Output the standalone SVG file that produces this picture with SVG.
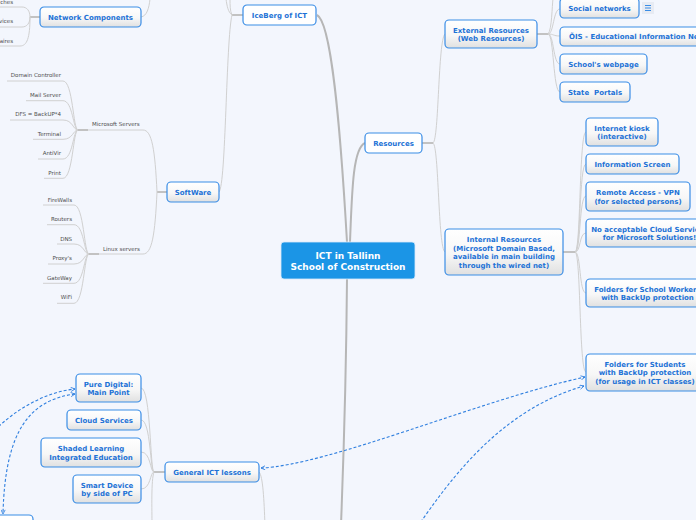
<svg xmlns="http://www.w3.org/2000/svg" width="696" height="520" viewBox="0 0 696 520">
<defs>
<linearGradient id="g" x1="0" y1="0" x2="0" y2="1">
<stop offset="0" stop-color="#ffffff"/>
<stop offset="0.55" stop-color="#f7f7f7"/>
<stop offset="1" stop-color="#e0e0e0"/>
</linearGradient>
<marker id="a" viewBox="0 0 6 6" refX="5.5" refY="3" markerWidth="5" markerHeight="5" orient="auto-start-reverse" markerUnits="userSpaceOnUse">
<path d="M0.5,0.5 L5.5,3 L0.5,5.5" fill="none" stroke="#2f7fdf" stroke-width="1"/>
</marker>
</defs>
<style>
.n rect{fill:url(#g);stroke:#3a8de6;stroke-width:1.2}
.w rect{fill:#ffffff}
.n text{font-family:"DejaVu Sans",Verdana,sans-serif;font-weight:bold;font-size:7px;fill:#1d72d6;text-anchor:middle}
.l{fill:none;stroke:#d0d0d0;stroke-width:1}
.j{fill:none;stroke:#c2c2c2;stroke-width:2}
.t{fill:none;stroke:#b6b6b6;stroke-width:2}
.d{fill:none;stroke:#2f7fdf;stroke-width:1.1;stroke-dasharray:3 2}
.s{font-family:"DejaVu Sans",Verdana,sans-serif;font-size:5.5px;fill:#4d4d4d;text-anchor:end}
.sl{font-family:"DejaVu Sans",Verdana,sans-serif;font-size:5.5px;fill:#4d4d4d}
</style>
<rect x="0" y="0" width="696" height="520" fill="#f3f6fd"/>

<g id="connectors">
<!-- main -->
<path class="t" d="M317,15 C331,22 340,120 347,242"/>
<path class="t" d="M350,242 C352,190 353,148 365,143" stroke-width="1.8"/>
<path class="t" d="M347,279 C346,400 343,470 341,525"/>
<!-- iceberg -->
<path class="j" d="M243,15 L232,15"/>
<path class="l" d="M232,15 C228,12 227,6 226,-1"/>
<path class="l" d="M232,15 C230,11 230,5 230,-1"/>
<path class="l" d="M232,15 C226,40 226,185 219,192"/>
<!-- network components -->
<path class="l" d="M141,17 C147,16 149,8 150,-1"/>
<path class="j" d="M40,17 L30,17"/>
<path class="l" d="M30,17 C30,11 27,7 22,7 L-2,7"/>
<path class="l" d="M30,17 C30,23 27,27 22,27 L-2,27"/>
<path class="l" d="M30,17 C30,38 27,46 20,46 L-2,46"/>
<!-- software -->
<path class="j" d="M167,192 L157,192"/>
<path class="l" d="M157,192 C155,150 152,130 143,130 L88,130"/>
<path class="l" d="M157,192 C155,235 152,254 143,254 L99,254"/>
<path class="j" d="M88,130 L78,130"/>
<path class="l" d="M78,130 C73,130 73,81 63,81 L7,81"/>
<path class="l" d="M78,130 C73,130 73,100.7 63,100.7 L26,100.7"/>
<path class="l" d="M78,130 C73,130 73,120 63,120 L10,120"/>
<path class="l" d="M78,130 C73,130 73,139.3 63,139.3 L33,139.3"/>
<path class="l" d="M78,130 C73,130 73,159 63,159 L38,159"/>
<path class="l" d="M78,130 C73,130 73,178.3 63,178.3 L44,178.3"/>
<path class="j" d="M99,254 L89,254"/>
<path class="l" d="M89,254 C84,254 84,205 74,205 L43,205"/>
<path class="l" d="M89,254 C84,254 84,224.7 74,224.7 L47,224.7"/>
<path class="l" d="M89,254 C84,254 84,244 74,244 L57,244"/>
<path class="l" d="M89,254 C84,254 84,264 74,264 L48,264"/>
<path class="l" d="M89,254 C84,254 84,283.3 74,283.3 L43,283.3"/>
<path class="l" d="M89,254 C84,254 84,303.3 74,303.3 L57,303.3"/>
<!-- resources -->
<path class="j" d="M422,143 L433,143"/>
<path class="l" d="M433,143 C439,140 438,40 445,34"/>
<path class="l" d="M433,143 C439,146 438,248 445,252"/>
<path class="j" d="M537,34 L548,34"/>
<path class="l" d="M548,34 C552,30 552,5 553,-1"/>
<path class="l" d="M548,34 C554,34 553,9 560,9"/>
<path class="l" d="M548,34 C554,34 553,36 560,36"/>
<path class="l" d="M548,34 C554,34 553,64 560,64"/>
<path class="l" d="M548,34 C554,34 553,92 560,92"/>
<path class="j" d="M563,252 L575,252"/>
<path class="l" d="M575,252 C581,252 579,132 586,132"/>
<path class="l" d="M575,252 C581,252 579,164 586,164"/>
<path class="l" d="M575,252 C581,252 579,196 586,196"/>
<path class="l" d="M575,252 C581,252 579,233 586,233"/>
<path class="l" d="M575,252 C581,252 579,293 586,293"/>
<path class="l" d="M575,252 C581,252 579,372 586,372"/>
<!-- general ICT -->
<path class="j" d="M165,472 L154,472"/>
<path class="l" d="M154,472 C150,472 151,388 141,388"/>
<path class="l" d="M154,472 C150,472 151,420 141,420"/>
<path class="l" d="M154,472 C150,472 151,452 141,452"/>
<path class="l" d="M154,472 C150,472 151,489 141,489"/>
<path class="l" d="M154,472 C151,480 152,510 152,525"/>
<path class="l" d="M259,472 C263,476 264,500 265,525"/>
<!-- dashed relations -->
<path class="d" d="M261,468 C330,465 480,400 585,377" marker-start="url(#a)" marker-end="url(#a)"/>
<path class="d" d="M418,526 C450,480 500,410 584,386" marker-end="url(#a)"/>
<path class="d" d="M-5,430 C15,410 45,392 75,389" marker-end="url(#a)"/>
<path class="d" d="M75,394 C30,400 5,430 3,514" marker-start="url(#a)" marker-end="url(#a)"/>
</g>

<g id="labels-network">
<text class="s" x="13" y="4">ches</text>
<text class="s" x="13" y="23">vices</text>
<text class="s" x="13" y="43">aires</text>
</g>
<g id="labels-ms">
<text class="s" x="61" y="77">Domain Controller</text>
<text class="s" x="61" y="96.7">Mail Server</text>
<text class="s" x="61" y="115.7">DFS = BackUP*4</text>
<text class="s" x="61" y="135.7">Terminal</text>
<text class="s" x="61" y="155">AntiVir</text>
<text class="s" x="61" y="175">Print</text>
<text class="sl" x="92" y="125.7">Microsoft Servers</text>
</g>
<g id="labels-linux">
<text class="s" x="72" y="202">FireWalls</text>
<text class="s" x="72" y="221">Routers</text>
<text class="s" x="72" y="241">DNS</text>
<text class="s" x="72" y="260">Proxy's</text>
<text class="s" x="72" y="280">GateWay</text>
<text class="s" x="72" y="299">WiFi</text>
<text class="sl" x="103" y="251">Linux servers</text>
</g>

<g id="center">
<rect x="281" y="242" width="134" height="37" rx="3" fill="#1b95e6" stroke="#d8eafa" stroke-width="0.8"/>
<text x="348" y="259" font-family="DejaVu Sans,Verdana,sans-serif" font-weight="bold" font-size="9" fill="#ffffff" text-anchor="middle">ICT in Tallinn</text>
<text x="348" y="270" font-family="DejaVu Sans,Verdana,sans-serif" font-weight="bold" font-size="9" fill="#ffffff" text-anchor="middle">School of Construction</text>
</g>

<g id="network-components" class="n"><rect x="40" y="7" width="101" height="20" rx="4"/><text x="90.5" y="19.5">Network Components</text></g>
<g id="iceberg" class="n w"><rect x="243" y="5" width="73" height="20" rx="4"/><text x="279.5" y="17.8">IceBerg of ICT</text></g>
<g id="software" class="n"><rect x="167" y="182" width="52" height="20" rx="4"/><text x="193" y="194.8">SoftWare</text></g>
<g id="general-ict" class="n"><rect x="165" y="462" width="94" height="20" rx="4"/><text x="212" y="474.8">General ICT lessons</text></g>
<g id="pure-digital" class="n"><rect x="76" y="374" width="65" height="28" rx="4"/><text x="108.5" y="386.8">Pure Digital:</text><text x="108.5" y="395.2">Main Point</text></g>
<g id="cloud-services" class="n"><rect x="67" y="410" width="74" height="20" rx="4"/><text x="104" y="422.8">Cloud Services</text></g>
<g id="shaded-learning" class="n"><rect x="41" y="438" width="100" height="29" rx="4"/><text x="91" y="450.8">Shaded Learning</text><text x="91" y="459.8">Integrated Education</text></g>
<g id="smart-device" class="n"><rect x="73" y="475" width="68" height="28" rx="4"/><text x="107" y="487.8">Smart Device</text><text x="107" y="496.2">by side of PC</text></g>
<g id="bottom-left" class="n w"><rect x="-10" y="515" width="43" height="20" rx="4"/></g>

<g id="resources" class="n w"><rect x="365" y="133" width="57" height="20" rx="4"/><text x="393.5" y="145.5">Resources</text></g>
<g id="external" class="n"><rect x="445" y="20" width="92" height="28" rx="4"/><text x="491" y="33.2">External Resources</text><text x="491" y="40.8">(Web Resources)</text></g>
<g id="social" class="n"><rect x="560" y="-2" width="79" height="20" rx="4"/><text x="599.5" y="10.8">Social networks</text></g>
<g id="social-icon"><rect x="642" y="2" width="12" height="12" fill="#e7ebf3"/><path d="M645,5.5 H651 M645,8 H651 M645,10.5 H651" stroke="#3a8de6" stroke-width="1"/></g>
<g id="ois" class="n"><rect x="560" y="27" width="150" height="19" rx="4"/><text x="569" y="38.5" style="text-anchor:start">ÕIS - Educational Information Network</text></g>
<g id="school-webpage" class="n"><rect x="560" y="54" width="87" height="20" rx="4"/><text x="603.5" y="66.8">School's webpage</text></g>
<g id="state-portals" class="n"><rect x="560" y="82" width="70" height="20" rx="4"/><text x="595" y="94.8" xml:space="preserve">State  Portals</text></g>
<g id="internal" class="n"><rect x="445" y="229" width="118" height="46" rx="4"/><text x="504" y="242.2">Internal Resources</text><text x="504" y="250.5">(Microsoft Domain Based,</text><text x="504" y="259.2">available in main building</text><text x="504" y="267.8">through the wired net)</text></g>
<g id="kiosk" class="n"><rect x="586" y="118" width="72" height="28" rx="4"/><text x="622" y="131.2">Internet kiosk</text><text x="622" y="139.2">(interactive)</text></g>
<g id="info-screen" class="n"><rect x="586" y="154" width="93" height="20" rx="4"/><text x="632.5" y="166.8">Information Screen</text></g>
<g id="remote" class="n"><rect x="586" y="182" width="104" height="29" rx="4"/><text x="638" y="194.8">Remote Access - VPN</text><text x="638" y="203.8">(for selected persons)</text></g>
<g id="no-cloud" class="n"><rect x="586" y="219" width="130" height="28" rx="4"/><text x="649.5" y="231.8">No acceptable Cloud Services</text><text x="649.5" y="239.8">for Microsoft Solutions!</text></g>
<g id="folders-workers" class="n"><rect x="586" y="279" width="124" height="28" rx="4"/><text x="647.5" y="291.8">Folders for School Workers</text><text x="647.5" y="299.8">with BackUp protection</text></g>
<g id="folders-students" class="n"><rect x="586" y="354" width="118" height="37" rx="4"/><text x="645" y="366.5">Folders for Students</text><text x="645" y="374.8">with BackUp protection</text><text x="645" y="383.5">(for usage in ICT classes)</text></g>
</svg>
